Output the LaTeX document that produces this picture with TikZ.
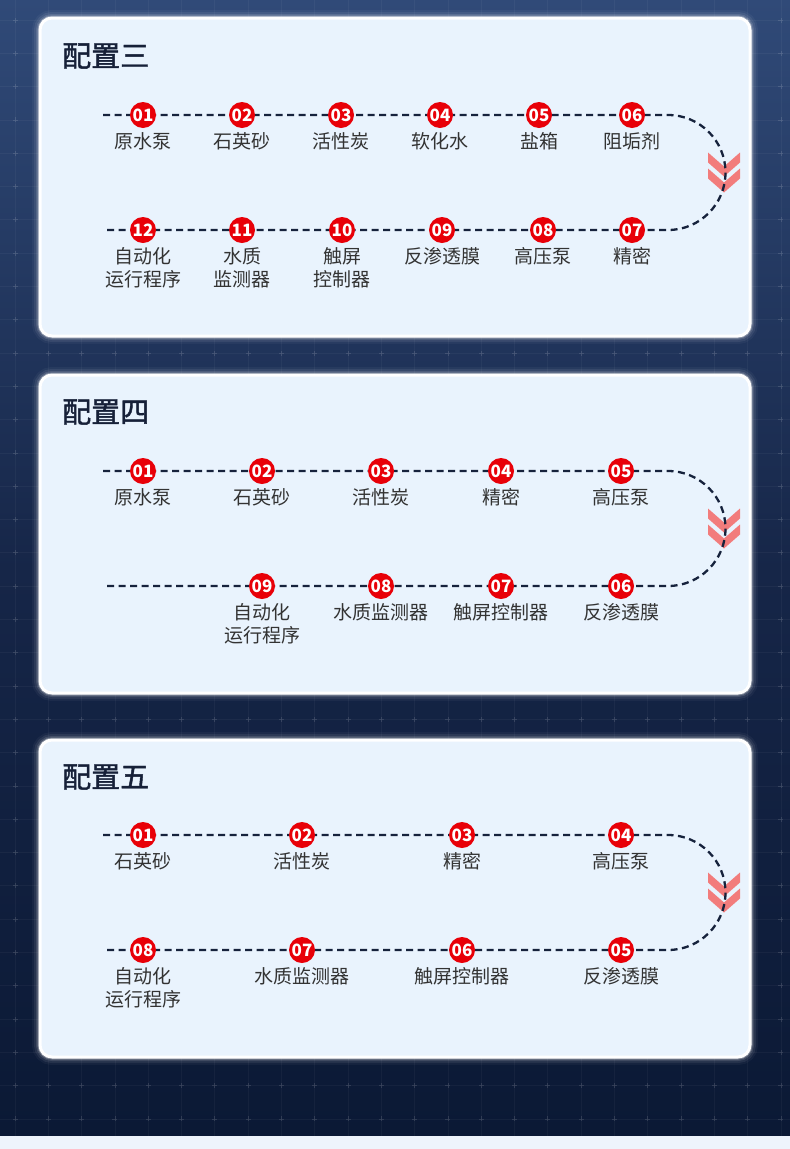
\documentclass[tikz,border=0pt]{standalone}
\usepackage{fontspec}
\setmainfont{Noto Sans CJK SC}
\newfontfamily\titlefont[FakeBold=1.5]{Noto Sans CJK SC}
\usetikzlibrary{positioning}

\definecolor{bgtop}{RGB}{48,74,120}
\definecolor{bgmid}{RGB}{22,38,72}
\definecolor{bgbot}{RGB}{11,25,53}
\definecolor{panelfill}{RGB}{233,243,253}
\definecolor{linedark}{RGB}{22,34,60}
\definecolor{badgered}{RGB}{232,0,8}
\definecolor{chevpink}{RGB}{242,124,124}
\definecolor{labelgray}{RGB}{51,51,51}
\definecolor{titledark}{RGB}{22,32,56}
\definecolor{stripbg}{RGB}{238,244,252}

\tikzset{
  badge/.style={circle, fill=badgered, inner sep=0pt, minimum size=26pt,
    text=white, font=\bfseries\fontsize{17}{17}\selectfont},
  lbl/.style={text=labelgray, inner sep=0pt, align=center,
    font=\fontsize{19}{23}\selectfont},
  cfgtitle/.style={anchor=west, text=titledark, inner sep=0pt,
    font=\titlefont\fontsize{29}{32}\selectfont},
  flow/.style={linedark, line width=2.3pt, dash pattern=on 7pt off 4.5pt},
  gridline/.style={white, opacity=0.04, line width=0.8pt},
}

\begin{document}
\begin{tikzpicture}[x=1pt,y=-1pt]
    \useasboundingbox (0,0) rectangle (790,1149);
    % background
    \shade[top color=bgtop, bottom color=bgbot, middle color=bgmid] (0,0) rectangle (790,1136);
    \foreach \i in {0,...,23} {\draw[gridline] ({15+33.3*\i},0) -- ({15+33.3*\i},1136);}
    \foreach \j in {0,...,33} {\draw[gridline] (0,{20+33.3*\j}) -- (790,{20+33.3*\j});}
    \foreach \i in {0,...,23} {
      \foreach \j in {0,...,33} {
        \draw[white, opacity=0.12, line width=0.8pt]
          ({15+33.3*\i-2.5},{20+33.3*\j}) -- ++(5,0) ({15+33.3*\i},{20+33.3*\j-2.5}) -- ++(0,5);
      }
    }
    \fill[stripbg] (0,1136) rectangle (790,1149);

    % panels
    \foreach \top/\bot in {18/336, 375/693, 740/1057} {
      \foreach \w/\o in {16/0.04, 12/0.07, 8/0.12, 5/0.3} {
        \draw[white, line width=\w pt, opacity=\o, rounded corners=12pt] (40,\top) rectangle (750,\bot);
      }
      \draw[white, line width=3pt, fill=panelfill, rounded corners=12pt] (40,\top) rectangle (750,\bot);
    }

    % chevrons
    \foreach \m in {172.5, 528.5, 892.5} {
      \foreach \t in {-20,-4} {
        \fill[chevpink] (708,{\m+\t}) -- (724,{\m+\t+14}) -- (740,{\m+\t}) -- (740,{\m+\t+10})
          -- (724,{\m+\t+24}) -- (708,{\m+\t+10}) -- cycle;
      }
    }

    \node[cfgtitle] (t3) at (62,56) {配置三};
    \node[cfgtitle] (t4) at (62,412) {配置四};
    \node[cfgtitle] (t5) at (62,777) {配置五};

    % dashed routes
    \coordinate (c3s) at (103,115);
    \coordinate (c3r) at (668,115);
    \coordinate (c3e) at (103,230);
    \draw[flow] (c3s) -- (c3r) arc[start angle=-90, end angle=90, radius=57.5] -- (c3e);
    \coordinate (c4s) at (103,471);
    \coordinate (c4r) at (668,471);
    \coordinate (c4e) at (103,586);
    \draw[flow] (c4s) -- (c4r) arc[start angle=-90, end angle=90, radius=57.5] -- (c4e);
    \coordinate (c5s) at (103,835);
    \coordinate (c5r) at (668,835);
    \coordinate (c5e) at (103,950);
    \draw[flow] (c5s) -- (c5r) arc[start angle=-90, end angle=90, radius=57.5] -- (c5e);

    % 配置三
    \foreach \n/\x/\t in {01/143/原水泵, 02/242/石英砂, 03/341/活性炭, 04/440/软化水, 05/539/盐箱, 06/632/阻垢剂} {
      \node[badge] (c3n\n) at (\x,115) {\n};
      \node[lbl, below=4pt of c3n\n] (c3l\n) {\t};
    }
    \foreach \n/\x/\t in {07/632/精密, 08/543/高压泵, 09/442/反渗透膜, 10/342/触屏\\控制器, 11/242/水质\\监测器, 12/143/自动化\\运行程序} {
      \node[badge] (c3n\n) at (\x,230) {\n};
      \node[lbl, below=4pt of c3n\n] (c3l\n) {\t};
    }

    % 配置四
    \foreach \n/\x/\t in {01/143/原水泵, 02/262/石英砂, 03/381/活性炭, 04/501/精密, 05/621/高压泵} {
      \node[badge] (c4n\n) at (\x,471) {\n};
      \node[lbl, below=4pt of c4n\n] (c4l\n) {\t};
    }
    \foreach \n/\x/\t in {06/621/反渗透膜, 07/501/触屏控制器, 08/381/水质监测器, 09/262/自动化\\运行程序} {
      \node[badge] (c4n\n) at (\x,586) {\n};
      \node[lbl, below=4pt of c4n\n] (c4l\n) {\t};
    }

    % 配置五
    \foreach \n/\x/\t in {01/143/石英砂, 02/302/活性炭, 03/462/精密, 04/621/高压泵} {
      \node[badge] (c5n\n) at (\x,835) {\n};
      \node[lbl, below=4pt of c5n\n] (c5l\n) {\t};
    }
    \foreach \n/\x/\t in {05/621/反渗透膜, 06/462/触屏控制器, 07/302/水质监测器, 08/143/自动化\\运行程序} {
      \node[badge] (c5n\n) at (\x,950) {\n};
      \node[lbl, below=4pt of c5n\n] (c5l\n) {\t};
    }
\end{tikzpicture}
\end{document}
